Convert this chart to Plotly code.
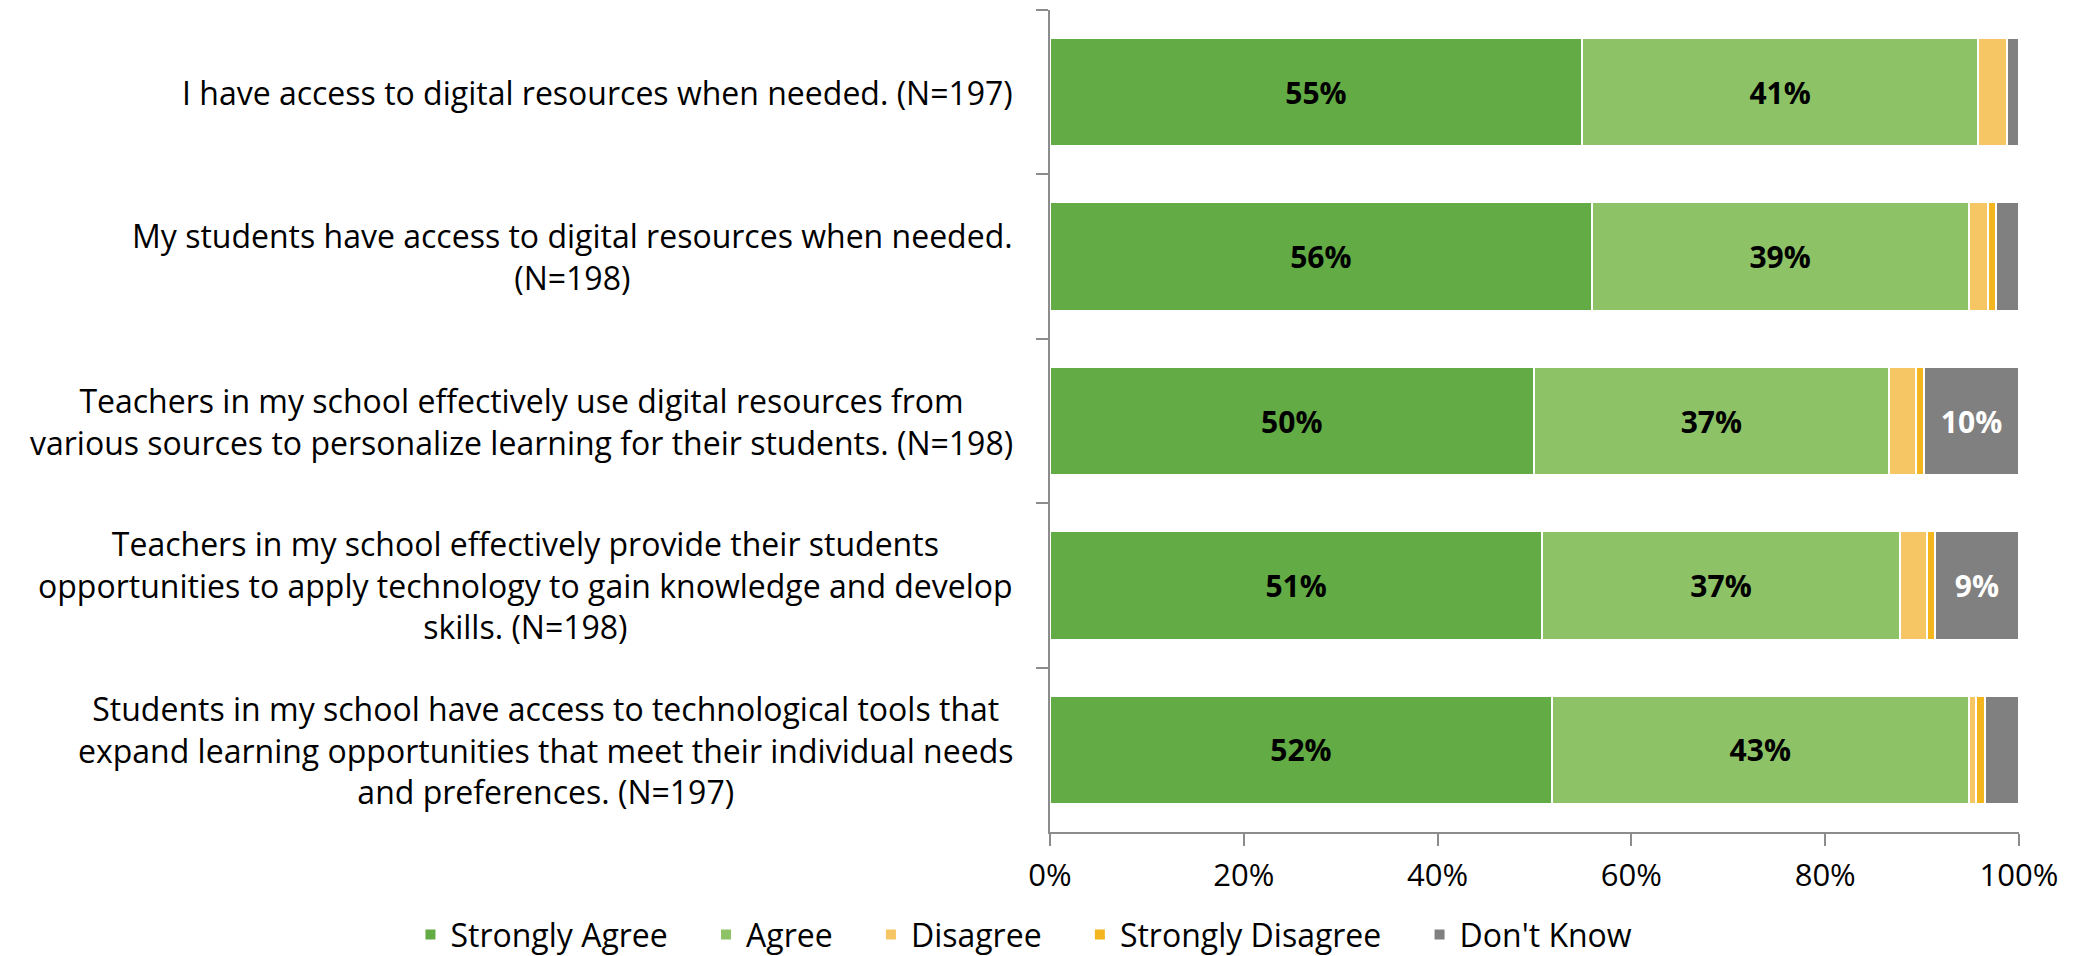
import plotly.graph_objects as go

categories = [
    "I have access to digital resources when needed. (N=197)",
    "My students have access to digital resources when needed.<br>(N=198)",
    "Teachers in my school effectively use digital resources from<br>various sources to personalize learning for their students. (N=198)",
    "Teachers in my school effectively provide their students<br>opportunities to apply technology to gain knowledge and develop<br>skills. (N=198)",
    "Students in my school have access to technological tools that<br>expand learning opportunities that meet their individual needs<br>and preferences. (N=197)",
]
cat_ids = ["Q1", "Q2", "Q3", "Q4", "Q5"]

strongly_agree = [54.9, 55.9, 49.9, 50.8, 51.8]
agree = [40.9, 38.9, 36.7, 36.9, 43.0]
disagree = [3.0, 2.0, 2.8, 2.8, 0.8]
strongly_disagree = [0.0, 0.8, 0.8, 0.8, 0.9]
dont_know = [1.2, 2.4, 9.8, 8.7, 3.5]

series_names = ["Strongly Agree", "Agree", "Disagree", "Strongly Disagree", "Don't Know"]
series_values = [strongly_agree, agree, disagree, strongly_disagree, dont_know]
colors = ["#62AB45", "#8DC366", "#F6C564", "#F3B61F", "#808080"]
text_colors = ["black", "black", "black", "black", "white"]

x_ticks = [0, 20, 40, 60, 80, 100]
x_tick_labels = ["0%", "20%", "40%", "60%", "80%", "100%"]

FONT = "Open Sans"
PAD = "\u00a0" * 4

fig = go.Figure()
for i, (name, vals, col, tc) in enumerate(zip(series_names, series_values, colors, text_colors)):
    fig.add_trace(go.Bar(
        y=cat_ids, x=vals, name=name + (PAD if i < len(series_names) - 1 else ""),
        orientation="h",
        marker=dict(color=col, line=dict(color="white", width=2)),
        text=[f"<b>{round(v)}%</b>" if v >= 5 else "" for v in vals],
        textposition="inside", insidetextanchor="middle",
        textfont=dict(family=FONT, size=30, color=tc),
        hoverinfo="skip",
    ))

for cid, label in zip(cat_ids, categories):
    fig.add_annotation(
        x=-0.036, xref="paper", y=cid, yref="y", text=label,
        xanchor="right", yanchor="middle", align="center", showarrow=False,
        font=dict(family=FONT, size=32, color="black"),
    )

fig.update_layout(
    barmode="stack", bargap=0.34,
    width=2076, height=956,
    margin=dict(l=1042, r=65, t=2, b=127),
    plot_bgcolor="white", paper_bgcolor="white",
    font=dict(family=FONT, color="black"),
    legend=dict(
        orientation="h", xref="paper", yref="paper",
        x=-0.66, xanchor="left", y=-0.125, yanchor="middle",
        font=dict(family=FONT, size=32), traceorder="normal",
        itemwidth=30,
    ),
    uniformtext=dict(minsize=10, mode="show"),
)
fig.update_xaxes(
    range=[0, 100], tickmode="array", tickvals=x_ticks, ticktext=x_tick_labels,
    showgrid=False, zeroline=False, showline=True, linecolor="#8C8C8C", linewidth=2,
    ticks="outside", ticklen=12, tickwidth=2, tickcolor="#8C8C8C",
    tickfont=dict(family=FONT, size=31, color="black"), ticklabelstandoff=3,
)
fig.update_yaxes(
    categoryorder="array", categoryarray=cat_ids, autorange="reversed",
    showticklabels=False, showgrid=False, showline=True, linecolor="#8C8C8C", linewidth=2,
    ticks="outside", ticklen=12, tickwidth=2, tickcolor="#8C8C8C", tickson="boundaries",
)

fig.write_html("out.html")
